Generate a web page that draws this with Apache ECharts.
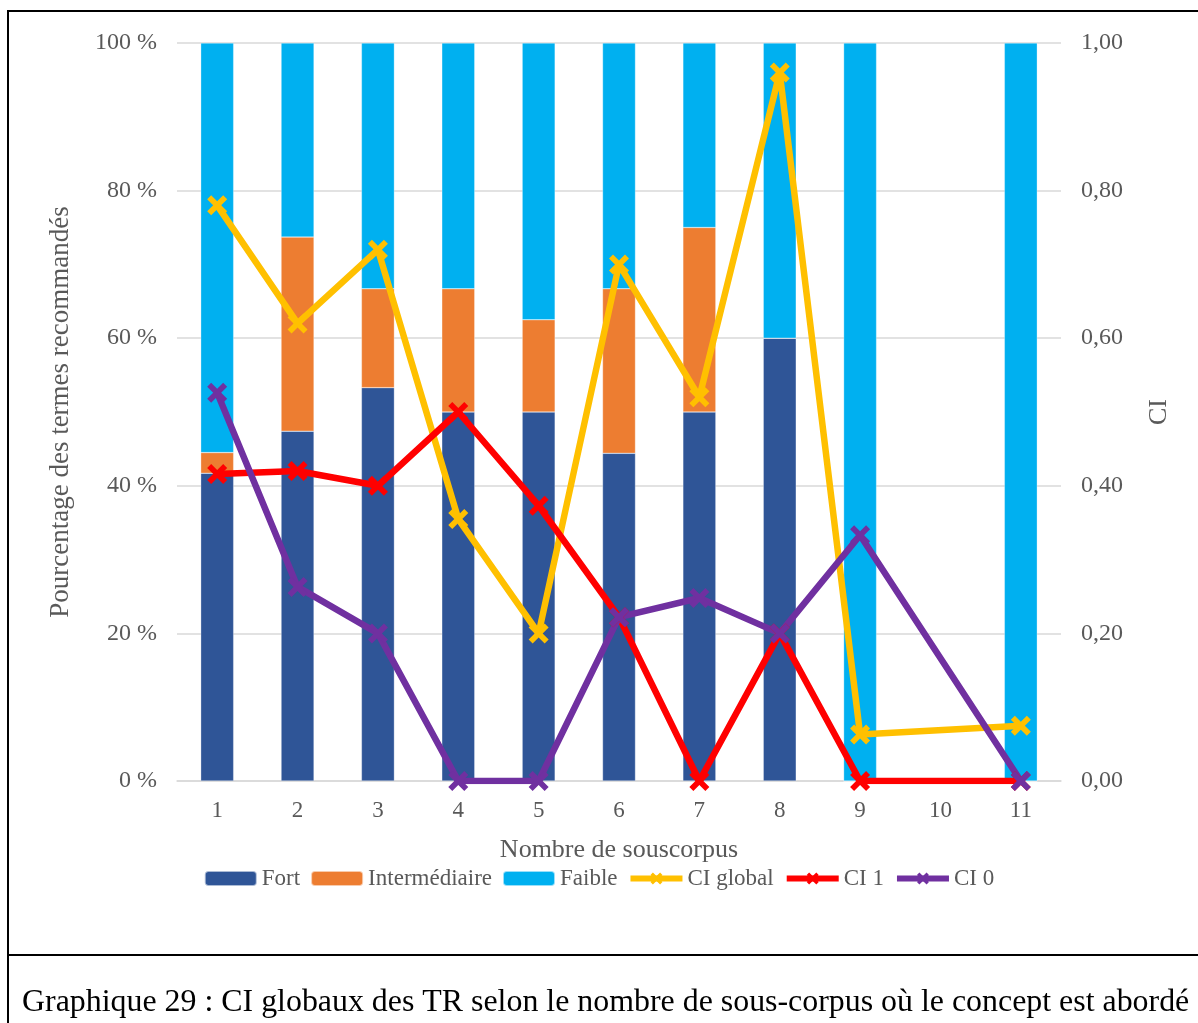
<!DOCTYPE html>
<html><head><meta charset="utf-8">
<script src="https://cdn.jsdelivr.net/npm/echarts@6/dist/echarts.min.js"></script>
<style>html,body{margin:0;padding:0;background:#fff;}#c{width:1198px;height:1023px;}</style>
</head><body><div id="c"></div>
<script>
const categories = ['1','2','3','4','5','6','7','8','9','10','11'];
const fort = [41.7, 47.4, 53.3, 50, 50, 44.4, 50, 60, 0, null, 0];
const intermediaire = [2.8, 26.3, 13.4, 16.7, 12.5, 22.3, 25, 0, 0, null, 0];
const faible = [55.5, 26.3, 33.3, 33.3, 37.5, 33.3, 25, 40, 100, null, 100];
const ciGlobal = [0.78, 0.62, 0.72, 0.355, 0.20, 0.70, 0.52, 0.96, 0.063, null, 0.075];
const ci1 = [0.416, 0.42, 0.40, 0.50, 0.373, 0.222, 0, 0.20, 0, null, 0];
const ci0 = [0.526, 0.263, 0.20, 0, 0, 0.222, 0.248, 0.20, 0.333, null, 0];

const X = 'path://M2,0 L5,3 L8,0 L10,2 L7,5 L10,8 L8,10 L5,7 L2,10 L0,8 L3,5 L0,2 Z';
const font = '"Liberation Serif", "Times New Roman", serif';
const grey = '#595959';

const chart = echarts.init(document.getElementById('c'), null, {renderer:'canvas'});
function bar(name, data, color){
  return {name, type:'bar', stack:'s', data, barWidth:'41%', itemStyle:{color, borderColor:'rgba(255,255,255,0.6)', borderWidth:0.5}};
}
function line(name, data, color){
  return {name, type:'line', yAxisIndex:1, data, connectNulls:true, symbol:X, symbolSize:20,
    lineStyle:{color, width:6.5}, itemStyle:{color}, z:5};
}
chart.setOption({
  animation:false,
  textStyle:{fontFamily:font},
  grid:{left:177, right:137, top:43, bottom:242},
  legend:{
    top:862, left:'center', itemWidth:52, itemHeight:15, itemGap:10,
    textStyle:{fontFamily:font, fontSize:23, color:grey},
    data:[
      {name:'Fort'},{name:'Intermédiaire'},{name:'Faible'},
      {name:'CI global', lineStyle:{width:6}},
      {name:'CI 1', lineStyle:{width:6}},
      {name:'CI 0', lineStyle:{width:6}}
    ]
  },
  xAxis:{
    type:'category', data:categories,
    name:'Nombre de souscorpus', nameLocation:'middle', nameGap:56,
    nameTextStyle:{fontFamily:font, fontSize:26, color:grey},
    axisLine:{lineStyle:{color:'#d9d9d9', width:1.5}}, axisTick:{show:false},
    axisLabel:{fontFamily:font, fontSize:23, color:grey, margin:18}
  },
  yAxis:[{
    type:'value', min:0, max:100, interval:20,
    name:'Pourcentage des termes recommandés', nameLocation:'middle', nameGap:103, nameRotate:90,
    nameTextStyle:{fontFamily:font, fontSize:27, color:grey},
    axisLabel:{formatter:'{value} %', fontFamily:font, fontSize:24, color:grey, margin:20},
    splitLine:{lineStyle:{color:'#d9d9d9', width:1.5}}, axisLine:{show:false}, axisTick:{show:false}
  },{
    type:'value', min:0, max:1, interval:0.2,
    name:'CI', nameLocation:'middle', nameGap:85, nameRotate:90,
    nameTextStyle:{fontFamily:font, fontSize:26, color:grey},
    axisLabel:{formatter:v=>v.toFixed(2).replace('.',','), fontFamily:font, fontSize:24, color:grey, margin:20},
    splitLine:{show:false}, axisLine:{show:false}, axisTick:{show:false}
  }],
  series:[
    bar('Fort', fort, '#2f5597'),
    bar('Intermédiaire', intermediaire, '#ed7d31'),
    bar('Faible', faible, '#00b0f0'),
    line('CI global', ciGlobal, '#ffc000'),
    line('CI 1', ci1, '#ff0000'),
    line('CI 0', ci0, '#7030a0')
  ],
  graphic:[
    {type:'rect', shape:{x:8, y:11, width:1200, height:1100}, style:{fill:'none', stroke:'#000', lineWidth:2}, silent:true},
    {type:'line', shape:{x1:8, y1:955, x2:1200, y2:955}, style:{stroke:'#000', lineWidth:2}, silent:true},
    {type:'text', left:22, top:987, style:{text:'Graphique 29 : CI globaux des TR selon le nombre de sous-corpus où le concept est abordé', font:'31.9px "Liberation Serif", serif', fill:'#000'}}
  ]
});
</script></body></html>
